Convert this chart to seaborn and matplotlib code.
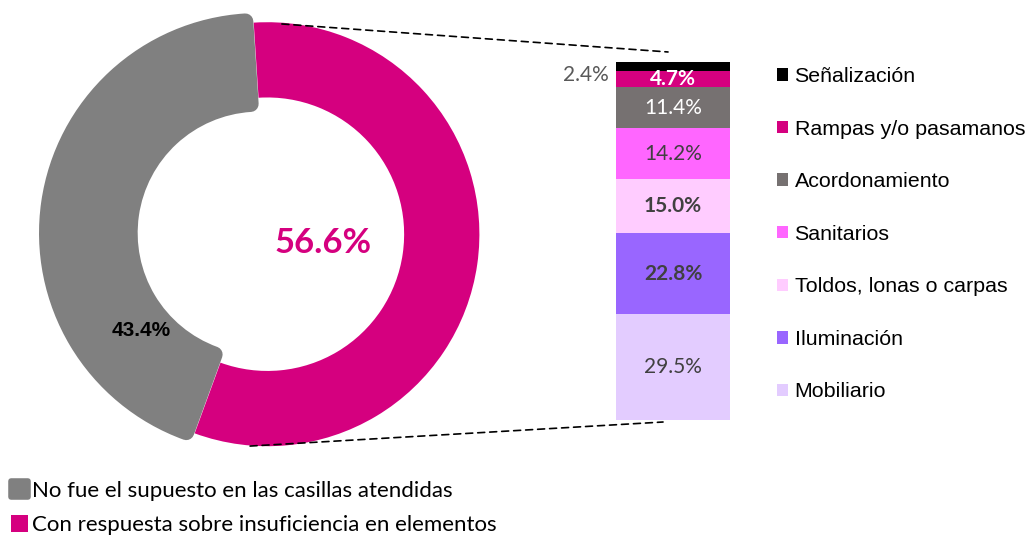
import numpy as np
import pandas as pd
import matplotlib.pyplot as plt
import seaborn as sns
from matplotlib.patches import Patch, ConnectionPatch

# Donut: overall split
donut_labels = ['No fue el supuesto en las casillas atendidas',
                'Con respuesta sobre insuficiencia en elementos']
donut_values = [43.4, 56.6]
donut_colors = ['#808080', '#D5007F']

# Breakdown of the 56.6% (bottom to top of the stacked bar)
items = ['Mobiliario', 'Iluminación', 'Toldos, lonas o carpas', 'Sanitarios',
         'Acordonamiento', 'Rampas y/o pasamanos', 'Señalización']
item_values = [29.5, 22.8, 15.0, 14.2, 11.4, 4.7, 2.4]
item_colors = ['#E3CCFF', '#9966FF', '#FFCCFF', '#FF66FF', '#767171', '#D5007F', '#000000']
label_colors = ['#404040', '#404040', '#404040', '#404040', 'white', 'white', '#595959']
label_bold = [False, True, True, False, False, True, False]

sns.set_theme(style='white')
plt.rcParams['font.family'] = ['Liberation Sans', 'DejaVu Sans']
plt.rcParams['text.color'] = 'black'
calibri = ['Lato', 'DejaVu Sans']

W, H = 1028, 537
fig = plt.figure(figsize=(W / 100, H / 100), dpi=100)


def px_axes(x0, y0, x1, y1):
    return fig.add_axes([x0 / W, 1 - y1 / H, (x1 - x0) / W, (y1 - y0) / H])


# ---- donut ----
R = 212  # px for radius 1
ax = px_axes(259 - 250, 233 - 250, 259 + 250, 233 + 250)
wedges, _ = ax.pie(donut_values[::-1], colors=donut_colors[::-1], startangle=93.7,
                   counterclock=False, explode=[0.04, 0],
                   wedgeprops=dict(width=0.355, linewidth=0))
pink, gray = wedges
pink.set_zorder(3)
gray.set_width(0.39)
gray.set_edgecolor(donut_colors[0])
gray.set_linewidth(11.5)
gray.set_joinstyle('round')
ax.set_xlim(-250 / R, 250 / R)
ax.set_ylim(-250 / R, 250 / R)
ax.axis('off')

ax.text(0.302, -0.047, f'{donut_values[1]:.1f}%', color=donut_colors[1], fontsize=25,
        fontweight='bold', ha='center', va='center', family=calibri)
ax.text(-0.557, -0.458, f'{donut_values[0]:.1f}%', color='black', fontsize=15,
        fontweight='bold', ha='center', va='center')

# ---- stacked bar ----
bax = px_axes(601.75, 62, 744.25, 420)
cum = np.cumsum(item_values)
for i in reversed(range(len(items))):
    sns.barplot(x=[0], y=[cum[i]], color=item_colors[i], saturation=1, width=0.8,
                linewidth=0, ax=bax)
for i, v in enumerate(item_values):
    mid = cum[i] - v / 2
    if items[i] == 'Señalización':
        bax.text(-0.45, 96.5, f'{v:.1f}%', color=label_colors[i], fontsize=15,
                 ha='right', va='center', family=calibri)
    else:
        bax.text(0, mid, f'{v:.1f}%', color=label_colors[i], fontsize=15,
                 fontweight='bold' if label_bold[i] else 'normal',
                 ha='center', va='center', family=calibri)
bax.set_xlim(-0.5, 0.5)
bax.set_ylim(0, 100)
bax.axis('off')

# dashed connectors
for xa, xb in [((0.108, 0.986), (-0.035, 102.8)), ((-0.042, -1.005), (-0.07, -0.56))]:
    con = ConnectionPatch(xyA=xa, coordsA=ax.transData, xyB=xb, coordsB=bax.transData,
                          color='black', linewidth=1.2, linestyle=(0, (4.2, 3)))
    fig.add_artist(con)

# ---- legends ----
handles = [Patch(facecolor=c, edgecolor='none') for c in item_colors[::-1]]
fig.legend(handles, items[::-1], loc='upper left', bbox_to_anchor=(777 / W, 1 - 67 / H),
           frameon=False, fontsize=15.4, borderpad=0, borderaxespad=0,
           handlelength=0.52, handleheight=0.52, handletextpad=0.3, labelspacing=1.57)

leg2 = fig.legend([gray, pink], donut_labels, loc='upper left',
                  bbox_to_anchor=(11 / W, 1 - 481 / H), frameon=False,
                  prop={'family': calibri, 'size': 16}, borderpad=0, borderaxespad=0,
                  handlelength=0.75, handleheight=0.75, handletextpad=0.2, labelspacing=0.64)
h0, h1 = leg2.legend_handles
h0.set_linewidth(4)
h0.set_joinstyle('round')
h1.set_linewidth(0)

fig.savefig('out.png', dpi=100)
